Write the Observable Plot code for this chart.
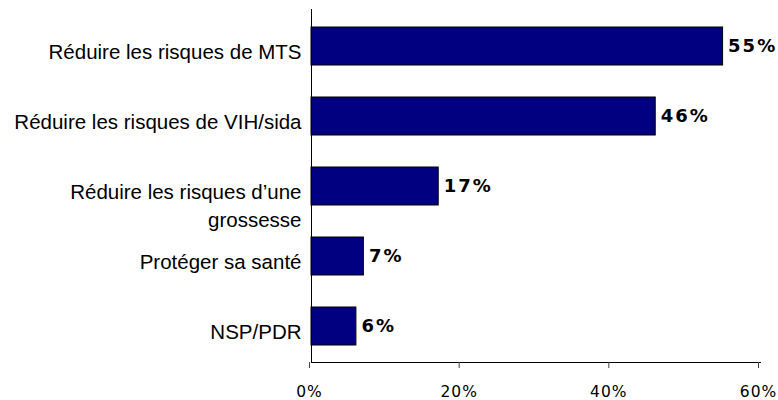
<!DOCTYPE html>
<html>
<head>
<meta charset="utf-8">
<script src="https://cdn.jsdelivr.net/npm/d3@7"></script>
<script src="https://cdn.jsdelivr.net/npm/@observablehq/plot@0.6"></script>
<style>
  html, body { margin: 0; padding: 0; background: #fff; }
  #chart { width: 778px; height: 400px; }
</style>
</head>
<body>
<div id="chart"></div>
<script>
const categories = [
  "Réduire les risques de MTS",
  "Réduire les risques de VIH/sida",
  "Réduire les risques d’une grossesse",
  "Protéger sa santé",
  "NSP/PDR"
];
const categoryLabels = [
  "Réduire les risques de MTS",
  "Réduire les risques de VIH/sida",
  "Réduire les risques d’une\ngrossesse",
  "Protéger sa santé",
  "NSP/PDR"
];
const values = [55, 46, 17, 7, 6];
const xTicks = [0, 20, 40, 60];

const data = categories.map((c, i) => ({category: c, label: categoryLabels[i], value: values[i]}));

const labelFont = "'Liberation Sans', Arial, sans-serif";
const numFont = "'DejaVu Sans', Verdana, sans-serif";

const plot = Plot.plot({
  width: 778,
  height: 400,
  marginLeft: 311,
  marginRight: 18,
  marginTop: 9,
  marginBottom: 38,
  x: {domain: [0, 60], ticks: xTicks},
  y: {domain: categories, paddingInner: 0.46, paddingOuter: 0.23},
  style: {background: "#fff", color: "#000"},
  marks: [
    Plot.barX(data, {x: "value", y: "category", fill: "#000080", stroke: "#000", strokeWidth: 1}),
    Plot.frame({anchor: "left", stroke: "#000"}),
    Plot.frame({anchor: "bottom", stroke: "#000"}),
    Plot.axisX({
      ticks: xTicks,
      tickFormat: d => d + "%",
      tickSize: 6,
      tickPadding: 17,
      fontSize: 15.5,
      fontFamily: numFont,
      stroke: "#444",
      dx: -2,
      label: null
    }),
    Plot.axisY({ticks: [], label: null, tickSize: 0}),
    Plot.text(data, {
      x: () => 0,
      y: "category",
      text: "label",
      dx: -10,
      dy: -7.3,
      textAnchor: "end",
      lineAnchor: "top",
      lineHeight: 1.36,
      fontSize: 20.5,
      fontFamily: labelFont,
      fill: "#000"
    }),
    Plot.text(data, {
      x: "value",
      y: "category",
      text: d => d.value + "%",
      dx: 5,
      textAnchor: "start",
      fontSize: 18,
      fontWeight: "bold",
      fontFamily: numFont,
      fill: "#000"
    })
  ]
});

document.getElementById("chart").appendChild(plot);

// letter spacing for numeric labels
const svg = d3.select(plot);
svg.selectAll('g[aria-label="x-axis tick label"] text').attr("letter-spacing", "1px");
svg.selectAll('g[aria-label="text"]').filter((d, i, nodes) => {
  const t = d3.select(nodes[i]).select("text").text();
  return /%$/.test(t);
}).selectAll("text").attr("letter-spacing", "2px");
</script>
</body>
</html>
